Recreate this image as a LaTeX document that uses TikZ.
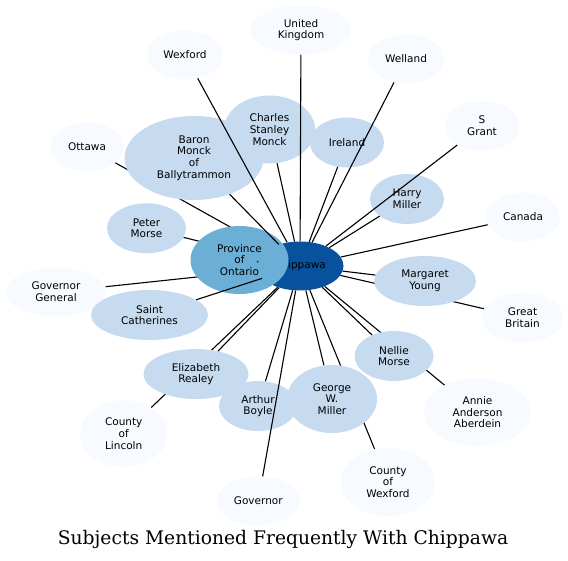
\documentclass[tikz,border=0pt]{standalone}
\usepackage{fontspec}
\newfontfamily\nodefont{DejaVu Sans}
\newfontfamily\titlefont{DejaVu Serif}
\usetikzlibrary{shapes.geometric}
\pgfdeclarelayer{bg}
\pgfsetlayers{bg,main}
\definecolor{cpale}{HTML}{F7FBFF}
\definecolor{clight}{HTML}{C6DBEF}
\definecolor{cmid}{HTML}{6BAED6}
\definecolor{cdark}{HTML}{08519C}
\tikzset{
  nd/.style={ellipse, inner sep=0pt, align=center, text=black,
    font=\nodefont\fontsize{10.5}{11.7}\selectfont},
  pale/.style={nd, fill=cpale},
  light/.style={nd, fill=clight},
  mid/.style={nd, fill=cmid},
  dark/.style={nd, fill=cdark},
  sz/.style 2 args={minimum width=#1pt, minimum height=#2pt},
  link/.style={draw=black, line width=1.1pt},
  titlestyle/.style={inner sep=0pt, font=\titlefont\fontsize{18.7}{22}\selectfont}
}
\begin{document}
\begin{tikzpicture}[x=1pt,y=-1pt]
\useasboundingbox (0,0) rectangle (568,561);
% pale nodes
\node[pale, sz={101}{49}] (uk) at (301,30) {United\\Kingdom};
\node[pale, sz={76}{49}] (wexford) at (185,55) {Wexford};
\node[pale, sz={76}{49}] (welland) at (406,59) {Welland};
\node[pale, sz={75}{50}] (sgrant) at (482,126) {S\\Grant};
\node[pale, sz={73}{49}] (ottawa) at (87,147) {Ottawa};
\node[pale, sz={74}{49}] (canada) at (523,217) {Canada};
\node[pale, sz={101}{49}] (govgen) at (56,292) {Governor\\General};
\node[pale, sz={82}{50}] (gb) at (522.5,317.7) {Great\\Britain};
\node[pale, sz={107}{68}] (annie) at (477.5,412.3) {Annie\\Anderson\\Aberdein};
\node[pale, sz={87}{67}] (lincoln) at (123.7,433.7) {County\\of\\Lincoln};
\node[pale, sz={95}{68}] (cwexford) at (388,482) {County\\of\\Wexford};
\node[pale, sz={83}{49}] (governor) at (258.3,501) {Governor};
% light nodes
\node[light, sz={139}{84}] (baron) at (194,158) {Baron\\Monck\\of\\Ballytrammon};
\node[light, sz={91}{68}] (charles) at (269.5,129.5) {Charles\\Stanley\\Monck};
\node[light, sz={74}{50}] (ireland) at (347,142.5) {Ireland};
\node[light, sz={74}{50}] (harry) at (407,199) {Harry\\Miller};
\node[light, sz={79}{50}] (peter) at (146.5,228.3) {Peter\\Morse};
\node[light, sz={117}{50}] (saintc) at (149.5,315) {Saint\\Catherines};
\node[light, sz={102}{50}] (margaret) at (425,281) {Margaret\\Young};
\node[light, sz={79}{50}] (nellie) at (394,356) {Nellie\\Morse};
\node[light, sz={105}{50}] (elizabeth) at (196,374) {Elizabeth\\Realey};
\node[light, sz={78}{50}] (arthur) at (258,406) {Arthur\\Boyle};
\node[light, sz={90}{68}] (george) at (332,399) {George\\W.\\Miller};
% centre
\node[dark, sz={87}{49}] (chip) at (300,266) {Chippawa};
\node[mid, sz={98}{68}] (prov) at (239.5,260) {Province\\of\\Ontario};
% edges passing under nodes
\begin{pgfonlayer}{bg}
\draw[link] (ottawa) -- (chip);
\draw[link] (peter) -- (chip);
\draw[link] (govgen) -- (chip);
\draw[link] (gb) -- (chip);
\draw[link] (annie) -- (chip);
\draw[link] (lincoln) -- (chip);
\draw[link] (cwexford) -- (chip);
\end{pgfonlayer}
% edges over nodes
\draw[link] (saintc) -- (chip);
\draw[link] (wexford) -- (chip);
\draw[link] (uk) -- (chip);
\draw[link] (welland) -- (chip);
\draw[link] (sgrant) -- (chip);
\draw[link] (governor) -- (chip);
\draw[link] (baron) -- (chip);
\draw[link] (charles) -- (chip);
\draw[link] (ireland) -- (chip);
\draw[link] (harry) -- (chip);
\draw[link] (canada) -- (chip);
\draw[link] (margaret) -- (chip);
\draw[link] (nellie) -- (chip);
\draw[link] (elizabeth) -- (chip);
\draw[link] (arthur) -- (chip);
\draw[link] (george) -- (chip);
\draw[link, shorten <=30pt] (prov) -- (chip);
% title
\node[titlestyle] (title) at (283,539.5) {Subjects Mentioned Frequently With Chippawa};
\end{tikzpicture}
\end{document}
